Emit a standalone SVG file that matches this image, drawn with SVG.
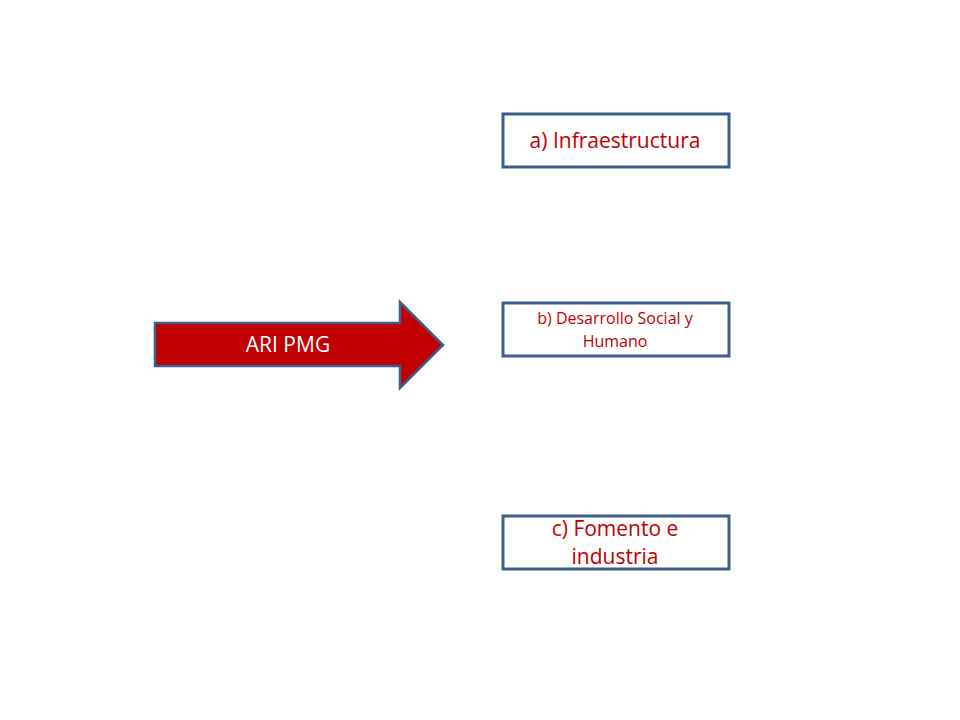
<svg xmlns="http://www.w3.org/2000/svg" width="960" height="720" viewBox="0 0 960 720">
<style>
.box{fill:#fff;stroke:#3B5E8C;stroke-width:3}
.t{fill:#C00000;font-family:"Open Sans","Liberation Sans",sans-serif;text-anchor:middle}
</style>
<rect width="960" height="720" fill="#fff"/>
<g id="arrow">
<polygon points="155,323 400,323 400,302 443,345 400,388 400,366 155,366" fill="#C00000" stroke="#3B5E8C" stroke-width="2.5" stroke-linejoin="miter"/>
<text x="288" y="352" font-family="'Open Sans','Liberation Sans',sans-serif" font-size="21" fill="#fff" text-anchor="middle">ARI PMG</text>
</g>
<g id="a">
<rect class="box" x="503" y="114" width="226" height="53"/>
<text class="t" x="615" y="148" font-size="21">a) Infraestructura</text>
</g>
<g id="b">
<rect class="box" x="503" y="303" width="226" height="53"/>
<text class="t" x="615" y="324" font-size="16">b) Desarrollo Social y</text>
<text class="t" x="615" y="347" font-size="16">Humano</text>
</g>
<g id="c">
<rect class="box" x="503" y="516" width="226" height="53"/>
<text class="t" x="615" y="536" font-size="21">c) Fomento e</text>
<text class="t" x="615" y="564" font-size="21">industria</text>
</g>
</svg>
